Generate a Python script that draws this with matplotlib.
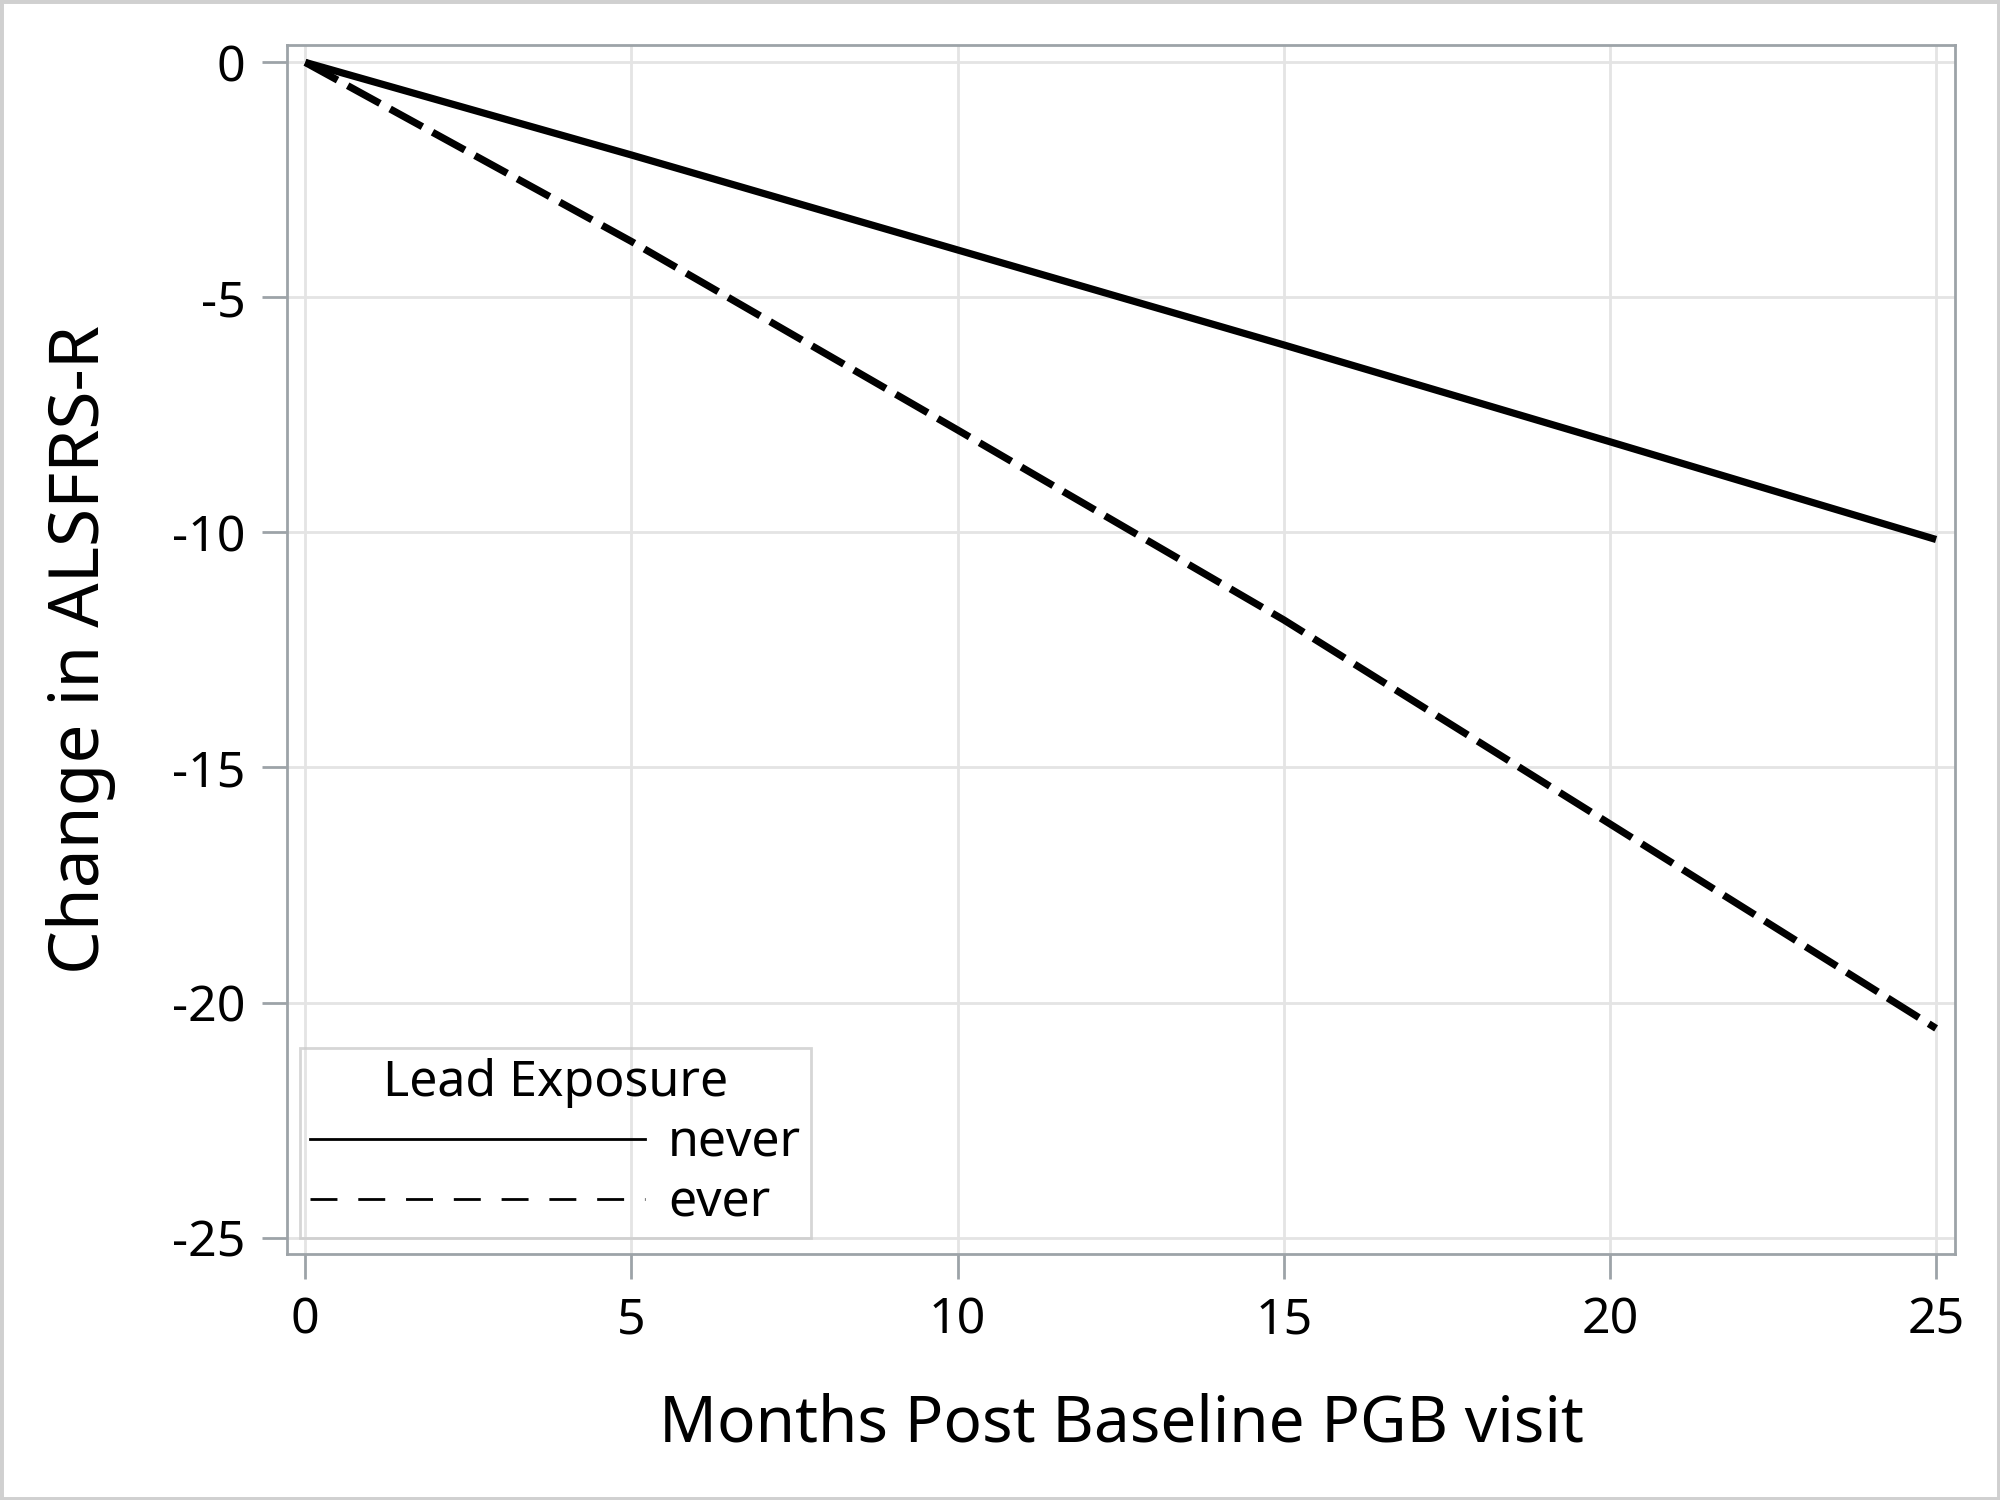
import matplotlib
matplotlib.use("Agg")
import matplotlib.pyplot as plt
from matplotlib.lines import Line2D
from matplotlib.patches import Rectangle

plt.rcParams['font.family'] = ['Noto Sans', 'DejaVu Sans']

months = [0, 5, 10, 15, 20, 25]
never = [0.0, -1.97, -3.99, -6.01, -8.07, -10.15]
ever = [0.0, -3.81, -7.82, -11.86, -16.2, -20.55]
series_labels = ["never", "ever"]
legend_title = "Lead Exposure"
xticks = [0, 5, 10, 15, 20, 25]
yticks = [0, -5, -10, -15, -20, -25]

fig = plt.figure(figsize=(10, 7.5), dpi=200)
ax = fig.add_axes([0.1435, 0.164, 0.834, 0.806])

frame_c = '#9DA3A8'
grid_c = '#E4E4E4'

ax.plot(months, never, color='black', lw=2.6, solid_capstyle='butt', zorder=3)
ax.plot(months, ever, color='black', lw=2.6, dashes=(5.1, 1.6), dash_capstyle='butt', zorder=3)

ax.set_xlim(-0.28, 25.29)
ax.set_ylim(-25.35, 0.37)
ax.set_xticks(xticks)
ax.set_yticks(yticks)
ax.set_xticklabels([str(v) for v in xticks])
ax.set_yticklabels([str(v) for v in yticks])
ax.grid(True, color=grid_c, lw=1.0, zorder=0)
ax.set_axisbelow(True)
for s in ax.spines.values():
    s.set_color(frame_c)
    s.set_linewidth(1.0)
ax.tick_params(axis='both', direction='out', length=9, width=1.0, color=frame_c,
               labelsize=18, pad=6)

ax.set_xlabel("Months Post Baseline PGB visit", fontsize=23, labelpad=17)
ax.set_ylabel("Change in ALSFRS-R", fontsize=25, labelpad=20)

handles = [Line2D([], [], color='black', lw=1.0),
           Line2D([], [], color='black', lw=1.0, dashes=(9.7, 7.5))]
leg = ax.legend(handles, series_labels, title=legend_title, loc='lower left',
                bbox_to_anchor=(0.008, 0.013), fontsize=18, title_fontsize=18,
                handlelength=6.7, handletextpad=0.45, labelspacing=0.2,
                borderpad=0.2, borderaxespad=0.0, fancybox=False, frameon=True)
leg.get_frame().set_edgecolor('#CCCCCC')
leg.get_frame().set_facecolor('none')
leg.get_frame().set_linewidth(1.0)

fig.patches.append(Rectangle((0.0, 0.0), 1.0, 1.0, transform=fig.transFigure,
                             fill=False, edgecolor='#D0D0D0', lw=2.5))

fig.savefig("out.png", dpi=200, facecolor='white')
